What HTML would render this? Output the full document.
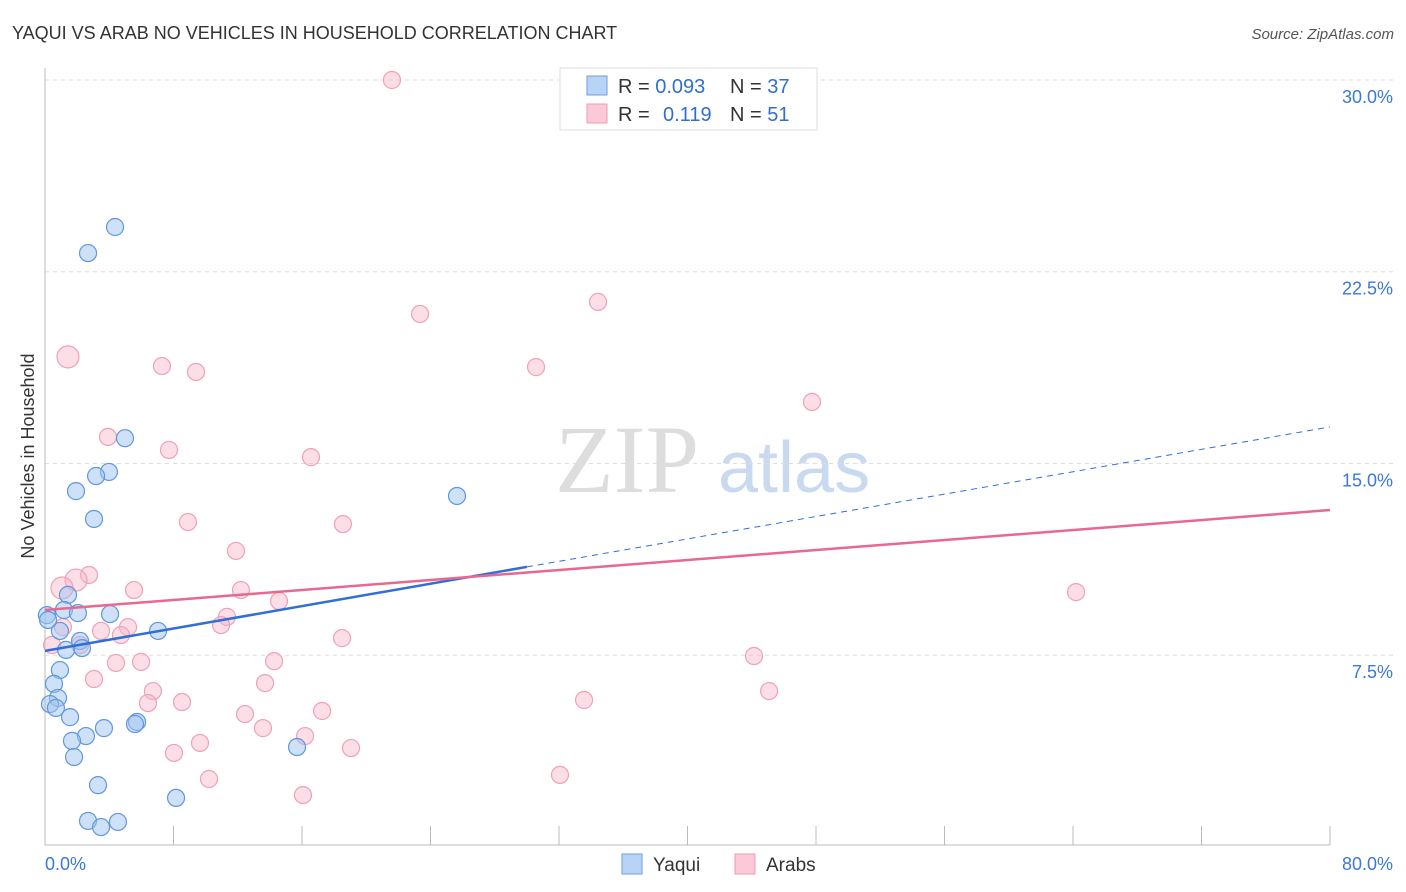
<!DOCTYPE html>
<html><head><meta charset="utf-8"><style>
body{margin:0;background:#fff;font-family:"Liberation Sans",sans-serif;}
svg{display:block}
</style></head><body>
<svg id="c" width="1406" height="892" xmlns="http://www.w3.org/2000/svg">
<text x="12" y="39" font-size="18" fill="#333">YAQUI VS ARAB NO VEHICLES IN HOUSEHOLD CORRELATION CHART</text>
<text x="1394" y="39" font-size="15" fill="#555" text-anchor="end" font-style="italic">Source: ZipAtlas.com</text>
<text x="555" y="492" font-size="96" fill="#ddd" font-family="Liberation Serif,serif">ZIP</text>
<text x="718" y="492" font-size="72" fill="#c9daf0">atlas</text>
<text transform="translate(34,456) rotate(-90)" font-size="18" fill="#333" text-anchor="middle">No Vehicles in Household</text>
<g id="grid"></g><g id="pts"></g><g id="lines"></g>
<g>
<rect x="560" y="68" width="257" height="62" fill="#fff" stroke="#ddd"/>
<rect x="587" y="76" width="20" height="19" fill="#b8d3f5" stroke="#6d9fe0"/>
<rect x="587" y="104" width="20" height="19" fill="#fbc9d7" stroke="#f09ab3"/>
<text x="618" y="93" font-size="20" fill="#333">R = <tspan fill="#2f6fcf">0.093</tspan></text>
<text x="730" y="93" font-size="20" fill="#333">N = <tspan fill="#2f6fcf">37</tspan></text>
<text x="618" y="121" font-size="20" fill="#333">R = <tspan fill="#2f6fcf" x="663">0.119</tspan></text>
<text x="730" y="121" font-size="20" fill="#333">N = <tspan fill="#2f6fcf">51</tspan></text>
</g>
<g>
<rect x="622" y="854" width="20" height="20" fill="#b8d3f5" stroke="#6d9fe0"/>
<text x="653" y="871" font-size="19" fill="#333">Yaqui</text>
<rect x="735" y="854" width="20" height="20" fill="#fbc9d7" stroke="#f09ab3"/>
<text x="766" y="871" font-size="19" fill="#333">Arabs</text>
</g>
</svg>
<script>
const yTicks=[7.5,15,22.5,30];
const xTickLabels=["0.0%","80.0%"];
const blueX=[2.68,4.36,4.98,3.98,3.18,1.93,3.05,25.65,1.43,1.18,2.05,4.05,0.93,7.04,2.18,2.30,1.31,0.12,0.93,0.56,0.81,0.31,0.68,1.56,3.67,5.73,5.60,2.55,1.68,1.81,15.69,3.30,8.16,2.68,3.49,4.54,0.19];
const blueY=[23.23,24.25,15.99,14.67,14.51,13.92,12.83,13.73,9.86,9.27,9.15,9.11,8.45,8.45,8.06,7.78,7.71,9.07,6.92,6.38,5.83,5.59,5.44,5.08,4.65,4.89,4.81,4.34,4.15,3.52,3.91,2.42,1.92,1.02,0.78,0.98,8.88];
const pinkX=[21.60,34.43,23.35,1.43,30.57,7.28,9.40,47.75,3.92,7.72,16.56,8.90,18.55,11.89,2.74,1.93,1.06,5.54,12.20,64.19,14.57,11.33,10.96,1.12,3.49,5.17,4.73,2.18,18.49,0.44,44.14,4.42,5.98,14.26,3.05,13.70,6.72,45.08,8.53,6.41,33.56,12.45,17.25,13.57,16.19,9.65,8.03,19.05,32.06,10.21,16.06];
const pinkY=[30.0,21.32,20.85,19.17,18.77,18.81,18.58,17.41,16.04,15.53,15.25,12.71,12.63,11.58,10.64,10.44,10.13,10.05,10.05,9.97,9.62,9.00,8.68,8.60,8.45,8.60,8.29,7.90,8.17,7.90,7.47,7.20,7.24,7.27,6.57,6.41,6.10,6.10,5.67,5.63,5.75,5.20,5.32,4.65,4.34,4.07,3.68,3.87,2.82,2.66,2.03];
const blueTrend=[7.67,16.43];
const pinkTrend=[9.27,13.18];
const NS="http://www.w3.org/2000/svg";
const X=v=>45+v/80*1285, Y=v=>847-v*25.567;
function mk(t,a,p){const e=document.createElementNS(NS,t);for(const k in a)e.setAttribute(k,a[k]);p.appendChild(e);return e;}
const g=document.getElementById('grid');
yTicks.forEach(t=>{
 const l=mk('line',{x1:45,x2:1394,y1:Y(t),y2:Y(t),stroke:'#ddd','stroke-dasharray':'4,4'},g);
 
 
 const tx=mk('text',{x:1393,y:Y(t)+23,'font-size':18,fill:'#3b78d8','text-anchor':'end'},g);
 tx.textContent=t.toFixed(1)+'%';
 
 
});
const ax=mk('line',{x1:45,x2:1330,y1:845,y2:845,stroke:'#bbb'},g);


const ay=mk('line',{x1:45,x2:45,y1:68,y2:845,stroke:'#bbb'},g);


for(let i=1;i<=10;i++){const v=i*8;const t=mk('line',{x1:X(v),x2:X(v),y1:826,y2:845,stroke:'#bbb'},g);
 
 }
[[0,'start',45],[80,'end',1393]].forEach((d,i)=>{const t=mk('text',{x:d[2],y:870,'font-size':18,fill:'#3b78d8','text-anchor':d[1]},g);t.textContent=xTickLabels[i];
 
 });
const p=document.getElementById('pts');
pinkX.forEach((x,i)=>{const c=mk('circle',{cx:X(x),cy:Y(pinkY[i]),r:(x<2&&pinkY[i]>10)?11:8.5,fill:'rgba(248,182,202,0.45)',stroke:'#f0a0b8','stroke-width':1.2},p);
 
 });
blueX.forEach((x,i)=>{const c=mk('circle',{cx:X(x),cy:Y(blueY[i]),r:8.5,fill:'rgba(160,196,240,0.5)',stroke:'#5f97dd','stroke-width':1.2},p);
 
 });
const L=document.getElementById('lines');
const bAt=x=>blueTrend[0]+(blueTrend[1]-blueTrend[0])*x/80;
const l1=mk('line',{x1:X(0),y1:Y(bAt(0)),x2:X(30),y2:Y(bAt(30)),stroke:'#2f6fd6','stroke-width':2.5},L);


const l2=mk('line',{x1:X(30),y1:Y(bAt(30)),x2:X(80),y2:Y(bAt(80)),stroke:'#2f6fd6','stroke-width':1,'stroke-dasharray':'6,5'},L);


const l3=mk('line',{x1:X(0),y1:Y(pinkTrend[0]),x2:X(80),y2:Y(pinkTrend[1]),stroke:'#e8688f','stroke-width':2.5},L);


</script>
</body></html>
